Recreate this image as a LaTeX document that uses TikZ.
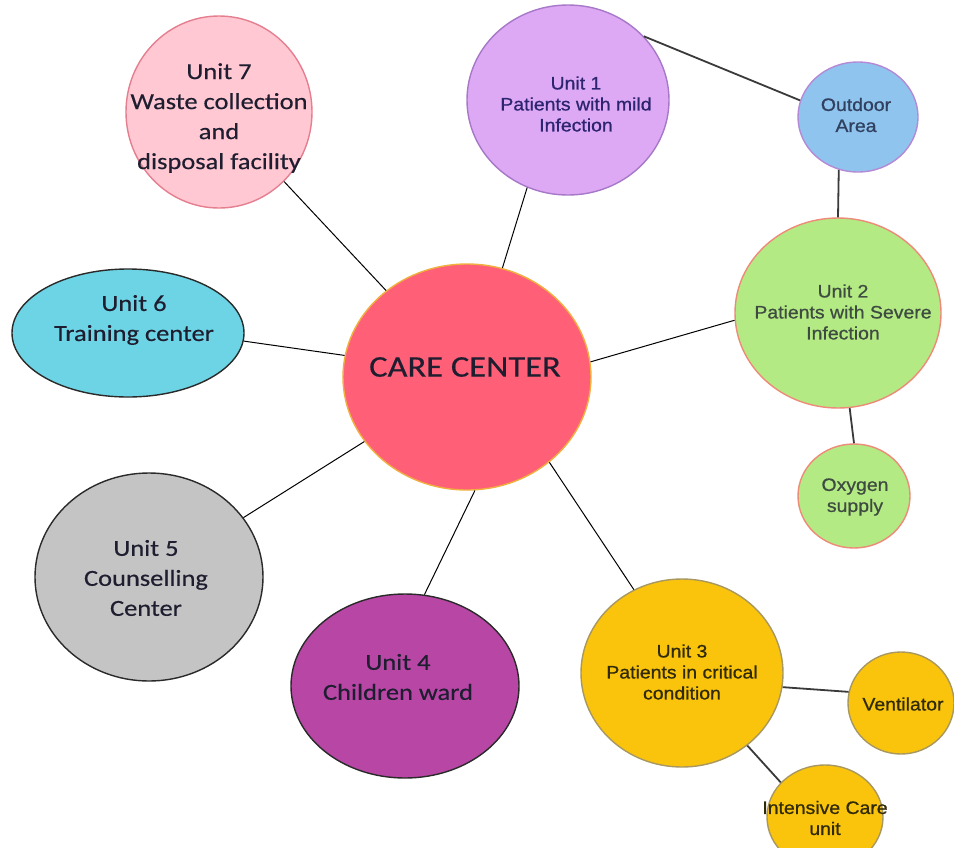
\documentclass[tikz,border=0pt]{standalone}
\usepackage{fontspec}
\usepackage{xcolor}
\usepackage{tikz}
\usetikzlibrary{shapes.geometric}
\newfontfamily\calibrifont[FakeStretch=1.15, FakeBold=0.4]{Carlito}
\newfontfamily\arialfont[FakeStretch=1.08, FakeBold=0.8]{Liberation Sans}
\definecolor{carered}{HTML}{FF6077}
\definecolor{careedge}{HTML}{F0B040}
\definecolor{wastepink}{HTML}{FFC8D2}
\definecolor{wasteedge}{HTML}{E57F90}
\definecolor{mildlilac}{HTML}{DDA9F4}
\definecolor{mildedge}{HTML}{A878C8}
\definecolor{outdoorblue}{HTML}{8FC4EE}
\definecolor{outdooredge}{HTML}{B48AD6}
\definecolor{severegreen}{HTML}{B4EA84}
\definecolor{severeedge}{HTML}{EE8A78}
\definecolor{trainingcyan}{HTML}{6CD4E4}
\definecolor{counselgray}{HTML}{C4C4C4}
\definecolor{childpurple}{HTML}{B846A5}
\definecolor{criticalgold}{HTML}{FAC40C}
\definecolor{criticaledge}{HTML}{A89860}
\definecolor{darkedge}{HTML}{2A2A2A}
\definecolor{inkdark}{HTML}{1E1E30}
\definecolor{inkmild}{HTML}{2D2470}
\definecolor{inksevere}{HTML}{3E4B40}
\definecolor{inkcritical}{HTML}{302A08}
\definecolor{inkoutdoor}{HTML}{30405E}
\definecolor{linegray}{HTML}{3A3A3A}
\tikzstyle{bubble} = [ellipse, draw, line width=1.4pt, inner sep=0pt]
\tikzstyle{bigtext} = [align=center, text=inkdark, font=\calibrifont\fontsize{23}{30}\selectfont]
\tikzstyle{smalltext} = [align=center, font=\arialfont\fontsize{18}{21}\selectfont]
\tikzstyle{spoke} = [line width=1pt, color=black]
\tikzstyle{branch} = [line width=1.8pt, color=linegray]

\begin{document}
\begin{tikzpicture}[x=1pt, y=-1pt]
    \useasboundingbox (0,0) rectangle (954,847);
    \clip (0,0) rectangle (954,847);
    \fill[white] (0,0) rectangle (954,847);

    % hub
    \node[bubble, fill=carered, draw=careedge, minimum width=248, minimum height=226] (care) at (467,377) {};
    \node[bigtext, font=\calibrifont\fontsize{30}{34}\selectfont] (caretxt) at (465,367) {CARE CENTER};

    % units round the hub
    \node[bubble, fill=wastepink, draw=wasteedge, minimum width=186, minimum height=192] (u7) at (219,112) {};
    \node[bigtext] (u7txt) at (219,118) {Unit 7\\Waste collection\\and\\disposal facility};

    \node[bubble, fill=mildlilac, draw=mildedge, minimum width=202, minimum height=190] (u1) at (568,100) {};
    \node[smalltext, text=inkmild] (u1txt) at (576,104) {Unit 1\\Patients with mild\\Infection};

    \node[bubble, fill=severegreen, draw=severeedge, minimum width=206, minimum height=190] (u2) at (838,313) {};
    \node[smalltext, text=inksevere] (u2txt) at (843,312) {Unit 2\\Patients with Severe\\Infection};

    \node[bubble, fill=criticalgold, draw=criticaledge, minimum width=202, minimum height=188] (u3) at (682,673) {};
    \node[smalltext, text=inkcritical] (u3txt) at (682,672) {Unit 3\\Patients in critical\\condition};

    \node[bubble, fill=childpurple, draw=darkedge, minimum width=228, minimum height=184] (u4) at (405,686) {};
    \node[bigtext] (u4txt) at (398,677) {Unit 4\\Children ward};

    \node[bubble, fill=counselgray, draw=darkedge, minimum width=228, minimum height=208] (u5) at (149,577) {};
    \node[bigtext] (u5txt) at (146,578) {Unit 5\\Counselling\\Center};

    \node[bubble, fill=trainingcyan, draw=darkedge, minimum width=232, minimum height=128] (u6) at (128,333) {};
    \node[bigtext] (u6txt) at (134,320) {Unit 6\\Training center};

    % facilities hanging off the units
    \node[bubble, fill=outdoorblue, draw=outdooredge, minimum width=120, minimum height=110] (outdoor) at (858,117) {};
    \node[smalltext, text=inkoutdoor] (outdoortxt) at (856,115) {Outdoor\\Area};

    \node[bubble, fill=severegreen, draw=severeedge, minimum width=112, minimum height=104] (oxygen) at (854,496) {};
    \node[smalltext, text=inksevere] (oxygentxt) at (855,497) {Oxygen\\supply};

    \node[bubble, fill=criticalgold, draw=criticaledge, minimum width=106, minimum height=102] (vent) at (901,703) {};
    \node[smalltext, text=inkcritical] (venttxt) at (903,704) {Ventilator};

    \node[bubble, fill=criticalgold, draw=criticaledge, minimum width=116, minimum height=104] (icu) at (825,817) {};
    \node[smalltext, text=inkcritical] (icutxt) at (825,818) {Intensive Care\\unit};

    % connectors
    \draw[spoke] (u7) -- (care);
    \draw[spoke] (u1.245) -- (care.72);
    \draw[spoke] (u2.184) -- (care.7);
    \draw[spoke] (u6.356) -- (care.170);
    \draw[spoke] (u5) -- (care);
    \draw[spoke] (u4.78) -- (care.274);
    \draw[spoke] (care.314) -- (u3.120);
    \draw[branch] (u1.40) -- (outdoor.164);
    \draw[branch] (outdoor.250) -- (u2.90);
    \draw[branch] (u2.277) -- (oxygen.90);
    \draw[branch] (u3.352) -- (vent.168);
    \draw[branch] (u3.312) -- (icu.142);
\end{tikzpicture}
\end{document}
